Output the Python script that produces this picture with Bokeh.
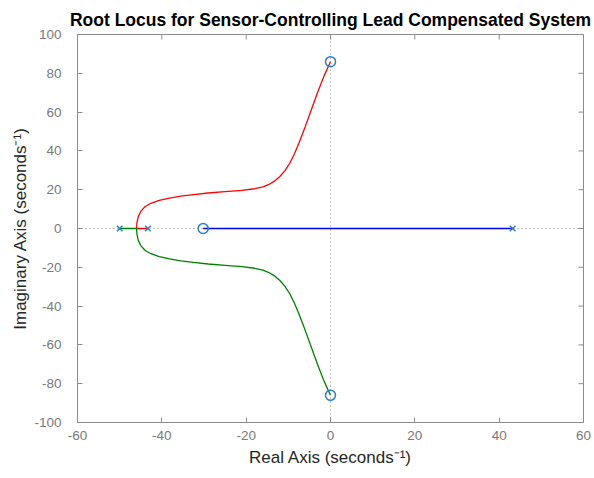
import math
from bokeh.plotting import figure
from bokeh.models import Range1d, FixedTicker
from bokeh.embed import file_html
from bokeh.resources import INLINE

# ---- data ----
pole_re = [-50.0, -43.3, 43.2]
pole_im = [0.0, 0.0, 0.0]
zero_re = [-30.2, 0.0, 0.0]
zero_im = [0.0, 86.0, -86.0]

red_re = [-43.3, -44.6, -46.0, -45.9, -45.6, -45.0, -44.0, -42.6, -40.6, -38.2, -35.5,
          -32.5, -29.0, -25.0, -21.0, -18.0, -16.0, -14.6, -13.3, -12.0, -10.8, -9.7,
          -8.6, -7.4, -6.0, -4.5, -3.0, -1.5, 0.0]
red_im = [0.0, 0.0, 0.0, 3.0, 6.0, 8.8, 11.2, 13.0, 14.5, 15.7, 16.7,
          17.5, 18.3, 19.0, 19.7, 20.5, 21.5, 22.7, 24.4, 26.8, 29.8, 33.5,
          38.3, 44.5, 52.5, 61.5, 70.5, 78.8, 86.0]

green_re = [-50.0, -48.0, -46.0, -45.9, -45.6, -45.0, -44.0, -42.6, -40.6, -38.2, -35.5,
            -32.5, -29.0, -25.0, -21.0, -18.0, -16.0, -14.6, -13.3, -12.0, -10.8, -9.7,
            -8.6, -7.4, -6.0, -4.5, -3.0, -1.5, 0.0]
green_im = [0.0, 0.0, 0.0, -3.0, -6.0, -8.8, -11.2, -13.0, -14.5, -15.7, -16.7,
            -17.5, -18.3, -19.0, -19.7, -20.5, -21.5, -22.7, -24.4, -26.8, -29.8, -33.5,
            -38.3, -44.5, -52.5, -61.5, -70.5, -78.8, -86.0]

blue_re = [43.2, -30.2]
blue_im = [0.0, 0.0]

x_ticks = [-60, -40, -20, 0, 20, 40, 60]
y_ticks = [-100, -80, -60, -40, -20, 0, 20, 40, 60, 80, 100]
x_lim = (-60, 60)
y_lim = (-100, 100)

title = "Root Locus for Sensor-Controlling Lead Compensated System"
x_label = "Real Axis (seconds\u207b\u00b9)"
y_label = "Imaginary Axis (seconds\u207b\u00b9)"

FONT = "Liberation Sans"
FRAME = "#8c8c8c"
TICKLBL = "#7a7a7a"
MARK = "#2a80cf"

p = figure(width=594, height=478, output_backend="svg", toolbar_location=None,
           x_range=Range1d(*x_lim), y_range=Range1d(*y_lim),
           min_border_left=77, min_border_right=11, min_border_top=34, min_border_bottom=56,
           title=title)
p.title.text_font = FONT
p.title.text_font_size = "17.5px"
p.title.text_font_style = "bold"
p.title.text_color = "#000000"
p.title.align = "center"
p.title.offset = -4
p.title.standoff = 10

p.grid.visible = False
p.outline_line_color = FRAME
p.outline_line_width = 1
p.background_fill_color = "white"
p.border_fill_color = "white"

for ax, ticks, lab in ((p.xaxis[0], x_ticks, x_label), (p.yaxis[0], y_ticks, y_label)):
    ax.ticker = FixedTicker(ticks=ticks)
    ax.major_label_overrides = {t: str(t) for t in ticks}
    ax.axis_label = lab
    ax.axis_label_text_font = FONT
    ax.axis_label_text_font_size = "17px"
    ax.axis_label_text_font_style = "normal"
    ax.axis_label_text_color = "#262626"
    ax.major_label_text_font = FONT
    ax.major_label_text_font_size = "13.5px"
    ax.major_label_text_color = TICKLBL
    ax.major_tick_in = 5
    ax.major_tick_out = 0
    ax.minor_tick_line_color = None
    ax.major_tick_line_color = FRAME
    ax.axis_line_color = FRAME
    ax.major_label_standoff = 8
    ax.axis_label_standoff = 5

p.yaxis[0].major_label_standoff = 16
p.yaxis[0].axis_label_standoff = 1

# tick marks on the top and right edges of the box (clipped to the frame)
p.scatter(x=x_ticks, y=[y_lim[1]] * len(x_ticks), marker="dash", angle=math.pi / 2,
          size=10, line_color=FRAME, line_width=1)
p.scatter(x=[x_lim[1]] * len(y_ticks), y=y_ticks, marker="dash",
          size=10, line_color=FRAME, line_width=1)

# dotted axes lines
p.line(x=list(x_lim), y=[0, 0], line_color="#7f7f7f", line_dash="1 3", line_width=1)
p.line(x=[0, 0], y=list(y_lim), line_color="#7f7f7f", line_dash="1 3", line_width=1)

# locus branches
p.line(x=blue_re, y=blue_im, line_color="#0000ff", line_width=1.4)
p.line(x=red_re, y=red_im, line_color="#ff0000", line_width=1.3)
p.line(x=green_re, y=green_im, line_color="#008000", line_width=1.3)

# poles and zeros
p.scatter(x=pole_re, y=pole_im, marker="x", size=8, line_color=MARK, line_width=1.5)
p.scatter(x=zero_re, y=zero_im, marker="circle", size=10, line_color=MARK,
          fill_color=None, line_width=1.5)

open("out.html", "w").write(file_html(p, INLINE))
